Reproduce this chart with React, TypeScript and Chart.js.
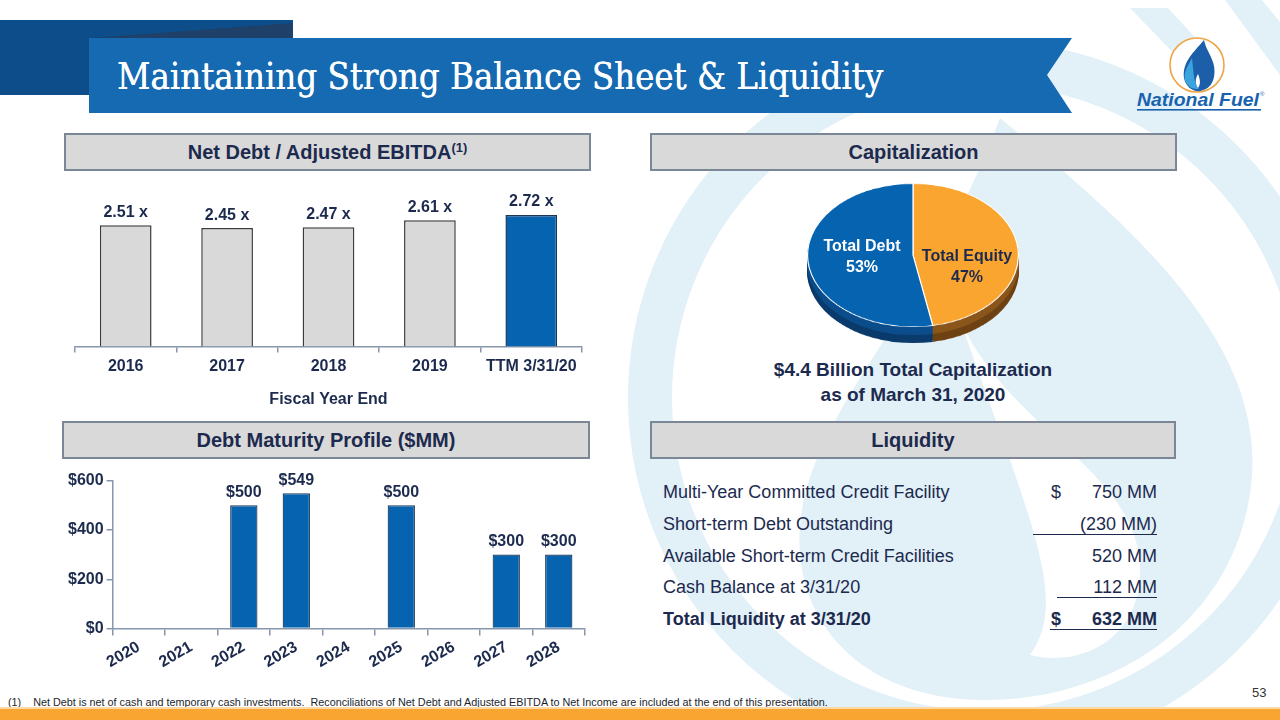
import React, { useEffect, useRef, useState } from "react";
import { Chart, registerables } from "chart.js";

Chart.register(...registerables);

// ---------- DATA ----------
const ratioCategories = ["2016", "2017", "2018", "2019", "TTM 3/31/20"];
const ratioValues = [2.51, 2.45, 2.47, 2.61, 2.72];
const ratioHighlight = [false, false, false, false, true];

const maturityYears = ["2020", "2021", "2022", "2023", "2024", "2025", "2026", "2027", "2028"];
const maturityValues: (number | null)[] = [null, null, 500, 549, null, 500, null, 300, 300];
const maturityTicks = [0, 200, 400, 600];

const capLabels = ["Total Equity", "Total Debt"];
const capValues = [47, 53];
const capTotalText = ["$4.4 Billion Total Capitalization", "as of March 31, 2020"];

const liquidityItems = [
  "Multi-Year Committed Credit Facility",
  "Short-term Debt Outstanding",
  "Available Short-term Credit Facilities",
  "Cash Balance at 3/31/20",
  "Total Liquidity at 3/31/20",
];
const liquidityAmounts = ["750 MM", "(230 MM)", "520 MM", "112 MM", "632 MM"];
const liquidityDollar = [true, false, false, false, true];
const liquidityUnderline = [false, true, false, true, true];
const liquidityBold = [false, false, false, false, true];

// ---------- STYLE ----------
const NAVY = "#1c2a4e";
const BLUE = "#0563b0";
const GRAY_BAR = "#d9d9d9";
const AXIS = "#8596ad";
const FONT = "'Liberation Sans', Arial, Helvetica, sans-serif";
const WM = "#e2f0f8";

const valueLabelPlugin = {
  id: "valueLabels",
  afterDatasetsDraw(chart: any, _args: any, opts: any) {
    const { ctx } = chart;
    const meta = chart.getDatasetMeta(0);
    const data = chart.data.datasets[0].data;
    ctx.save();
    ctx.font = opts.font;
    ctx.fillStyle = opts.color;
    ctx.textAlign = "center";
    ctx.textBaseline = "bottom";
    meta.data.forEach((el: any, i: number) => {
      const v = data[i];
      if (v === null || v === undefined) return;
      ctx.fillText(opts.format(v), el.x, el.y - opts.offset);
    });
    ctx.restore();
  },
};

function RatioChart() {
  const ref = useRef<HTMLCanvasElement>(null);
  useEffect(() => {
    const chart = new Chart(ref.current!, {
      type: "bar",
      data: {
        labels: ratioCategories,
        datasets: [
          {
            data: ratioValues,
            backgroundColor: ratioHighlight.map((h) => (h ? BLUE : GRAY_BAR)),
            borderColor: ratioHighlight.map((h) => (h ? "#1d3557" : "#3c3c3c")),
            borderWidth: 1.5,
            barPercentage: 0.51,
            categoryPercentage: 1,
          },
        ],
      },
      options: {
        responsive: false,
        animation: false,
        events: [],
        layout: { padding: { top: 12, left: 11, right: 12, bottom: 0 } },
        plugins: {
          legend: { display: false },
          tooltip: { enabled: false },
          valueLabels: {
            font: `bold 16px ${FONT}`,
            color: NAVY,
            offset: 5,
            format: (v: number) => `${v.toFixed(2)} x`,
          },
        } as any,
        scales: {
          x: {
            grid: { offset: true, drawOnChartArea: false, tickLength: 6, color: AXIS, lineWidth: 1.5 },
            border: { color: AXIS, width: 1.5 },
            ticks: { color: NAVY, font: { family: FONT, size: 16, weight: "bold" }, padding: 4 },
            title: {
              display: true,
              text: "Fiscal Year End",
              color: NAVY,
              font: { family: FONT, size: 16, weight: "bold" },
              padding: { top: 10, bottom: 4 },
            },
          },
          y: { display: false, min: 0, max: 3.3 },
        },
      },
      plugins: [valueLabelPlugin],
    } as any);
    return () => chart.destroy();
  }, []);
  return (
    <canvas
      ref={ref}
      width={530}
      height={238}
      style={{ position: "absolute", left: 64, top: 175, width: 530, height: 238 }}
    />
  );
}

function MaturityChart() {
  const ref = useRef<HTMLCanvasElement>(null);
  useEffect(() => {
    const chart = new Chart(ref.current!, {
      type: "bar",
      data: {
        labels: maturityYears,
        datasets: [
          {
            data: maturityValues,
            backgroundColor: BLUE,
            borderColor: "#1d3557",
            borderWidth: 1.2,
            barPercentage: 0.52,
            categoryPercentage: 1,
          },
        ],
      },
      options: {
        responsive: false,
        animation: false,
        events: [],
        layout: { padding: { top: 8, left: 25, right: 10, bottom: 0 } },
        plugins: {
          legend: { display: false },
          tooltip: { enabled: false },
          valueLabels: {
            font: `bold 16px ${FONT}`,
            color: NAVY,
            offset: 5,
            format: (v: number) => `$${v}`,
          },
        } as any,
        scales: {
          x: {
            grid: { offset: true, drawOnChartArea: false, tickLength: 7, color: AXIS, lineWidth: 1.5 },
            border: { color: AXIS, width: 1.5 },
            ticks: {
              color: NAVY,
              font: { family: FONT, size: 16, weight: "bold" },
              minRotation: 30,
              maxRotation: 30,
              padding: 2,
            },
          },
          y: {
            min: 0,
            max: 600,
            afterBuildTicks: (axis: any) => {
              axis.ticks = maturityTicks.map((v) => ({ value: v }));
            },
            grid: { drawOnChartArea: false, tickLength: 6, color: AXIS, lineWidth: 1.5 },
            border: { color: AXIS, width: 1.5 },
            ticks: {
              color: NAVY,
              font: { family: FONT, size: 16, weight: "bold" },
              padding: 3,
              callback: (v: any) => `$${v}`,
            },
          },
        },
      },
      plugins: [valueLabelPlugin],
    } as any);
    return () => chart.destroy();
  }, []);
  return (
    <canvas
      ref={ref}
      width={555}
      height={206}
      style={{ position: "absolute", left: 40, top: 468, width: 555, height: 206 }}
    />
  );
}

function PieLayer({ colors, border, bw, dy }: { colors: string[]; border: string; bw: number; dy: number }) {
  const ref = useRef<HTMLCanvasElement>(null);
  useEffect(() => {
    const chart = new Chart(ref.current!, {
      type: "pie",
      data: {
        labels: capLabels,
        datasets: [{ data: capValues, backgroundColor: colors, borderColor: border, borderWidth: bw, hoverOffset: 0 }],
      },
      options: {
        responsive: false,
        animation: false,
        events: [],
        layout: { padding: 0 },
        plugins: { legend: { display: false }, tooltip: { enabled: false } },
      },
    } as any);
    return () => chart.destroy();
  }, []);
  return (
    <canvas
      ref={ref}
      width={212}
      height={212}
      style={{
        position: "absolute",
        left: 0,
        top: 0,
        width: 212,
        height: 212,
        transform: `translateY(${dy}px) scaleY(0.68)`,
        transformOrigin: "0 0",
      }}
    />
  );
}

function CapPie() {
  const depths = [16, 14, 12, 10, 8, 6, 4, 2];
  return (
    <div style={{ position: "absolute", left: 807, top: 183, width: 212, height: 170 }}>
      {depths.map((d) => (
        <PieLayer
          key={d}
          colors={[d > 8 ? "#6e4213" : "#8a561b", d > 8 ? "#0a3b6c" : "#0c4d8c"]}
          border="#0a2340"
          bw={0}
          dy={d}
        />
      ))}
      <PieLayer colors={["#f9a52f", BLUE]} border="#ffffff" bw={1.2} dy={0} />
      <div
        style={{
          position: "absolute",
          left: 0,
          top: 52,
          width: 110,
          textAlign: "center",
          font: `bold 16px ${FONT}`,
          lineHeight: "21px",
          color: "#ffffff",
        }}
      >
        {capLabels[1]}
        <br />
        {capValues[1]}%
      </div>
      <div
        style={{
          position: "absolute",
          left: 104,
          top: 62,
          width: 112,
          textAlign: "center",
          font: `bold 16px ${FONT}`,
          lineHeight: "21px",
          color: NAVY,
        }}
      >
        {capLabels[0]}
        <br />
        {capValues[0]}%
      </div>
    </div>
  );
}

function Header({ left, top, width, children }: any) {
  return (
    <div
      style={{
        position: "absolute",
        left,
        top,
        width,
        height: 38,
        boxSizing: "border-box",
        background: "#d9d9d9",
        border: "2px solid #7b8797",
        color: NAVY,
        font: `bold 20px ${FONT}`,
        lineHeight: "34px",
        textAlign: "center",
      }}
    >
      {children}
    </div>
  );
}

function Title() {
  const ref = useRef<HTMLDivElement>(null);
  const [scale, setScale] = useState(1);
  useEffect(() => {
    if (ref.current) setScale(766 / ref.current.scrollWidth);
  }, []);
  return (
    <div
      ref={ref}
      style={{
        position: "absolute",
        left: 117,
        top: 53,
        whiteSpace: "nowrap",
        color: "#ffffff",
        font: `38px 'DejaVu Serif', 'Liberation Serif', serif`,
        lineHeight: "46px",
        transform: `scaleX(${scale})`,
        transformOrigin: "0 0",
        textShadow: "0.4px 0 0 #ffffff",
      }}
    >
      Maintaining Strong Balance Sheet &amp; Liquidity
    </div>
  );
}

function Watermark() {
  return (
    <svg width={1280} height={720} style={{ position: "absolute", left: 0, top: 0 }}>
      <path
        d="M 1000 118 C 1110 210 1262 330 1252 475 C 1242 615 1120 700 985 700 C 865 700 792 625 800 525 C 812 405 925 320 1000 118 Z"
        fill={WM}
      />
      <path
        d="M 960 320 C 1010 430 1135 470 1140 565 C 1143 640 1080 668 1030 655 C 1070 600 1030 520 960 320 Z"
        fill="#ffffff"
      />
      <circle cx={985} cy={398} r={335} fill="none" stroke={WM} strokeWidth={44} />
      <path d="M 1130 8 L 1168 8 L 1225 70 L 1190 70 Z" fill={WM} />
      <path d="M 1225 0 L 1262 0 L 1280 22 L 1280 75 Z" fill={WM} />
    </svg>
  );
}

function Logo() {
  return (
    <svg width={150} height={100} style={{ position: "absolute", left: 1128, top: 28 }}>
      <circle cx={69} cy={37} r={27} fill="#ffffff" stroke="#f0a545" strokeWidth={1.6} />
      <path d="M 76 12 C 66 24 54 34 56 50 C 58 60 66 64 72 63 C 84 61 88 50 86 38 C 84 28 78 22 76 12 Z" fill="#1c5ea8" />
      <path d="M 64 30 C 60 38 55 44 57 52 C 59 59 66 62 71 61 C 66 56 66 48 64 30 Z" fill="#3ba3de" />
      <path d="M 70 46 C 67 51 67 56 70 60 C 73 56 72 51 70 46 Z" fill="#ffffff" />
      <text
        x={9}
        y={78}
        style={{ font: `italic bold 19px ${FONT}`, fill: "#1763ad" }}
        textLength={122}
        lengthAdjust="spacingAndGlyphs"
      >
        National Fuel
      </text>
      <text x={132} y={68} style={{ font: `6px ${FONT}`, fill: "#1763ad" }}>
        ®
      </text>
      <rect x={9} y={81} width={124} height={1.6} fill="#1763ad" />
    </svg>
  );
}

function Liquidity() {
  const rowTop = (i: number) => 480 + i * 31.8;
  const underlineLeft = [0, 1033, 0, 1057, 1050];
  return (
    <>
      {liquidityItems.map((t, i) => (
        <div
          key={"l" + i}
          style={{
            position: "absolute",
            left: 663,
            top: rowTop(i),
            font: `${liquidityBold[i] ? "bold " : ""}18px ${FONT}`,
            lineHeight: "24px",
            color: NAVY,
            whiteSpace: "nowrap",
          }}
        >
          {t}
        </div>
      ))}
      {liquidityAmounts.map((a, i) => (
        <div
          key={"a" + i}
          style={{
            position: "absolute",
            left: liquidityUnderline[i] ? underlineLeft[i] : 1000,
            width: liquidityUnderline[i] ? 1157 - underlineLeft[i] : 157,
            top: rowTop(i) + 1,
            height: 22,
            boxSizing: "border-box",
            borderBottom: liquidityUnderline[i] ? `1.5px solid ${NAVY}` : "none",
            font: `${liquidityBold[i] ? "bold " : ""}18px ${FONT}`,
            lineHeight: "22px",
            color: NAVY,
            textAlign: "right",
            whiteSpace: "nowrap",
          }}
        >
          {a}
        </div>
      ))}
      {liquidityDollar.map((d, i) =>
        d ? (
          <div
            key={"d" + i}
            style={{
              position: "absolute",
              left: 1051,
              top: rowTop(i) + 1,
              font: `${liquidityBold[i] ? "bold " : ""}18px ${FONT}`,
              lineHeight: "22px",
              color: NAVY,
            }}
          >
            $
          </div>
        ) : null
      )}
    </>
  );
}

export default function App() {
  return (
    <div
      style={{
        position: "fixed",
        left: 0,
        top: 0,
        width: 1280,
        height: 720,
        overflow: "hidden",
        background: "#ffffff",
        fontFamily: FONT,
      }}
    >
      <Watermark />
      {/* banner */}
      <svg width={1100} height={120} style={{ position: "absolute", left: 0, top: 0 }}>
        <polygon points="0,20 293,20 293,38 89,38 89,95 0,95" fill="#0c4d8a" />
        <polygon points="92,38 293,23 293,38" fill="#1f4068" />
        <polygon points="89,38 1072,38 1047,75 1072,113 89,113" fill="#156ab2" />
      </svg>
      <Title />
      <Logo />

      <Header left={64} top={133} width={527}>
        Net Debt / Adjusted EBITDA<sup style={{ fontSize: 13, lineHeight: 0, verticalAlign: "7px" }}>(1)</sup>
      </Header>
      <Header left={650} top={133} width={527}>
        Capitalization
      </Header>
      <Header left={62} top={421} width={528}>
        Debt Maturity Profile ($MM)
      </Header>
      <Header left={650} top={421} width={526}>
        Liquidity
      </Header>

      <RatioChart />
      <MaturityChart />
      <CapPie />

      <div
        style={{
          position: "absolute",
          left: 713,
          top: 357,
          width: 400,
          textAlign: "center",
          font: `bold 19px ${FONT}`,
          lineHeight: "25px",
          color: NAVY,
        }}
      >
        {capTotalText[0]}
        <br />
        {capTotalText[1]}
      </div>

      <Liquidity />

      <div
        style={{
          position: "absolute",
          left: 8,
          top: 696,
          font: `10.8px ${FONT}`,
          color: "#1a1f2e",
          whiteSpace: "pre",
        }}
      >
        {"(1)    Net Debt is net of cash and temporary cash investments.  Reconciliations of Net Debt and Adjusted EBITDA to Net Income are included at the end of this presentation."}
      </div>
      <div style={{ position: "absolute", left: 1252, top: 685, font: `13px ${FONT}`, color: "#333333" }}>53</div>
      <div style={{ position: "absolute", left: 0, top: 707, width: 1280, height: 2, background: "#fbd9a6" }} />
      <div style={{ position: "absolute", left: 0, top: 709, width: 1280, height: 11, background: "#f8a532" }} />
    </div>
  );
}
